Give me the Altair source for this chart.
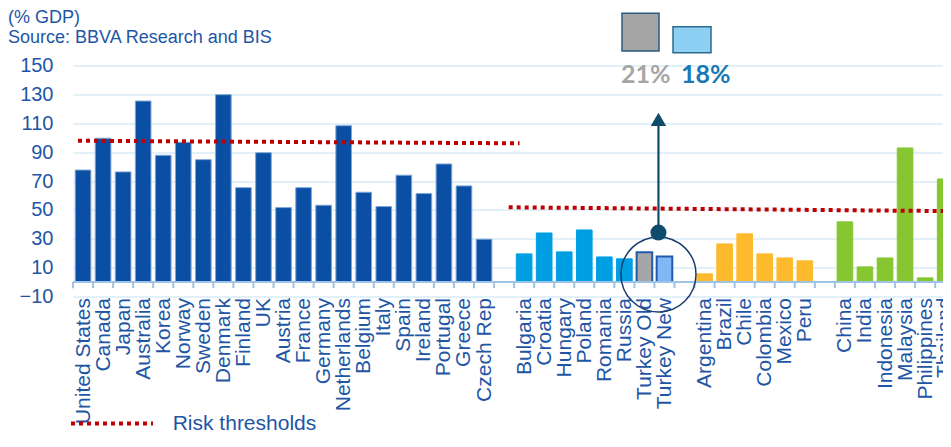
import json
import altair as alt
import pandas as pd

# ---------------- data ----------------
dev_names = ["United States", "Canada", "Japan", "Australia", "Korea", "Norway", "Sweden",
             "Denmark", "Finland", "UK", "Austria", "France", "Germany", "Netherlands",
             "Belgium", "Italy", "Spain", "Ireland", "Portugal", "Greece", "Czech Rep"]
dev_values = [77.6, 99.6, 76.3, 125.4, 87.8, 96.8, 84.8, 129.8, 65.4, 89.6, 51.6,
              65.4, 53.2, 108.3, 62.2, 52.3, 74.0, 61.3, 81.8, 66.6, 29.7]

eu_names = ["Bulgaria", "Croatia", "Hungary", "Poland", "Romania", "Russia"]
eu_values = [19.5, 34.0, 20.9, 36.1, 17.4, 16.1]

turkey_names = ["Turkey Old", "Turkey New"]
turkey_values = [20.7, 17.7]

latam_names = ["Argentina", "Brazil", "Chile", "Colombia", "Mexico", "Peru"]
latam_values = [5.7, 26.4, 33.4, 19.5, 16.7, 14.7]

asia_names = ["China", "India", "Indonesia", "Malaysia", "Philippines", "Thailand"]
asia_values = [41.7, 10.5, 16.7, 92.9, 2.9, 71.4]

# risk thresholds (start / end level of each dotted line)
threshold_names = ["developed", "emerging"]
threshold_start = [97.9, 51.8]
threshold_end = [96.1, 49.1]

turkey_labels = ["21%", "18%"]
y_ticks = [-10, 10, 30, 50, 70, 90, 110, 130, 150]

# ---------------- layout / style ----------------
PAD_L, PAD_T, PAD_B = 65, 57.5, 137
W, H = 870, 231
SLOT = 20.05
XMAX = W / SLOT
BLUE = "#1E56A5"
GRID = "#E2F0FA"
AXIS = "#9DC3E6"
RED = "#C00000"
ARROW = "#0F4C6C"
FONT = "Liberation Sans"

rows = []
slot = 0


def add(names, values, group):
    global slot
    for n, v in zip(names, values):
        rows.append(dict(name=n, value=v, group=group, slot=slot))
        slot += 1


add(dev_names, dev_values, "dev")
slot += 1
add(eu_names, eu_values, "eu")
add(turkey_names[:1], turkey_values[:1], "tr_old")
add(turkey_names[1:], turkey_values[1:], "tr_new")
slot += 1
add(latam_names, latam_values, "latam")
slot += 1
add(asia_names, asia_values, "asia")
NSLOT = slot

bar_df = pd.DataFrame(rows)
bar_df["x0"] = bar_df["slot"] + 0.11
bar_df["x1"] = bar_df["slot"] + 0.89
bar_df["mid"] = bar_df["slot"] + 0.5
bar_df["base"] = 0.0

labels = [""] * NSLOT
for r in rows:
    labels[r["slot"]] = r["name"]
label_expr = json.dumps(labels) + "[floor(datum.value)]"

xs = alt.Scale(domain=[0, XMAX], nice=False, zero=False)
ys = alt.Scale(domain=[-10, 150], nice=False, zero=False)

groups = ["dev", "eu", "tr_old", "tr_new", "latam", "asia"]
fills = ["#0A4FA3", "#009FE3", "#A6A6A6", "#80B7F6", "#FDBA2D", "#86C631"]
strokes = ["#7EA6DA", "#009FE3", "#1F5BAA", "#1F5BAA", "#FDBA2D", "#86C631"]

x_axis = alt.Axis(values=[i + 0.5 for i in range(NSLOT)], labelExpr=label_expr, title=None,
                  labelAngle=-90, domain=False, ticks=False, tickSize=0, grid=False,
                  labelPadding=1, labelFontSize=21, labelColor=BLUE, labelFont=FONT,
                  labelOverlap=False, labelFlush=False, labelBound=False)
y_axis = alt.Axis(values=y_ticks, title=None, domain=False, ticks=False, tickSize=0, grid=True,
                  gridColor=GRID, gridWidth=2, labelPadding=20, labelFontSize=20,
                  labelColor=BLUE, labelFont=FONT)


def X(field):
    return alt.X(field, type="quantitative", scale=xs, axis=x_axis)


def Y(field):
    return alt.Y(field, type="quantitative", scale=ys, axis=y_axis)


main_df = bar_df[~bar_df["group"].isin(["tr_old", "tr_new"])]
tr_df = bar_df[bar_df["group"].isin(["tr_old", "tr_new"])]

bars = alt.Chart(main_df).mark_rect(strokeWidth=1).encode(
    x=X("x0"), x2="x1", y=Y("value"), y2="base",
    color=alt.Color("group:N", scale=alt.Scale(domain=groups, range=fills), legend=None),
    stroke=alt.Stroke("group:N", scale=alt.Scale(domain=groups, range=strokes), legend=None),
)

tr_bars = alt.Chart(tr_df).mark_rect(strokeWidth=2).encode(
    x=X("x0"), x2="x1", y=Y("value"), y2="base",
    color=alt.Color("group:N", scale=alt.Scale(domain=groups, range=fills), legend=None),
    stroke=alt.Stroke("group:N", scale=alt.Scale(domain=groups, range=strokes), legend=None),
)

# category labels that fall past the right edge (cut off, as in the original)
edge_df = bar_df[bar_df["mid"] > XMAX]
edge_labels = alt.Chart(edge_df).mark_text(angle=270, align="right", baseline="middle",
                                           fontSize=21, font=FONT, color=BLUE).encode(
    x=X("mid"), y=alt.value(H + 1), text="name:N")

# zero line and category ticks
zero_df = pd.DataFrame({"x0": [0.0], "x1": [XMAX], "y": [0.0]})
zero_line = alt.Chart(zero_df).mark_rule(color=AXIS, strokeWidth=2).encode(
    x=X("x0"), x2="x1", y=Y("y"))

tick_df = pd.DataFrame({"pos": list(range(NSLOT + 1))})
tick_df["y0"] = 0.0
tick_df["y1"] = -4.2
ticks = alt.Chart(tick_df).mark_rule(color=AXIS, strokeWidth=2).encode(
    x=X("pos"), y=Y("y0"), y2="y1")

# thresholds
th_df = pd.DataFrame({
    "name": threshold_names,
    "x0": [0.25, 21.73],
    "x1": [22.27, 44.0],
    "y0": threshold_start,
    "y1": threshold_end,
})
thresholds = alt.Chart(th_df).mark_rule(color=RED, strokeWidth=4, strokeDash=[4, 4],
                                         strokeCap="butt").encode(
    x=X("x0"), x2="x1", y=Y("y0"), y2="y1")

# Turkey annotation: circle, arrow
ann_x = 29.2
circle_df = pd.DataFrame({"x": [ann_x], "y": [5.3]})
big_circle = alt.Chart(circle_df).mark_point(shape="circle", filled=False, size=5625,
                                             stroke="#1B3D6E", strokeWidth=1.5, opacity=1).encode(
    x=X("x"), y=Y("y"))

arrow_df = pd.DataFrame({"x": [ann_x], "y0": [34.3], "y1": [110.0]})
arrow_line = alt.Chart(arrow_df).mark_rule(color=ARROW, strokeWidth=2.2).encode(
    x=X("x"), y=Y("y0"), y2="y1")

dot = alt.Chart(arrow_df).mark_point(shape="circle", filled=True, size=256, color=ARROW,
                                      opacity=1).encode(x=X("x"), y=Y("y0"))

head_df = pd.DataFrame({"x": [ann_x], "y": [112.7]})
head = alt.Chart(head_df).mark_point(shape="triangle-up", filled=True, size=240, color=ARROW,
                                     opacity=1).encode(x=X("x"), y=Y("y"))

one = pd.DataFrame({"k": [0]})


def text(t, x, y, size, color, font=FONT, weight="normal"):
    return alt.Chart(one).mark_text(text=t, align="left", baseline="alphabetic", fontSize=size,
                                    font=font, fontWeight=weight, color=color).encode(
        x=alt.value(x), y=alt.value(y))


def box(x, x2, y, y2, fill, stroke):
    return alt.Chart(one).mark_rect(fill=fill, stroke=stroke, strokeWidth=1.5).encode(
        x=alt.value(x), x2=alt.value(x2), y=alt.value(y), y2=alt.value(y2))


title1 = text("(% GDP)", -65, -42.8, 18, BLUE)
title2 = text("Source: BBVA Research and BIS", -65, -22.2, 18, BLUE)
pct_old = text(turkey_labels[0], 548, 17.5, 25, "#A6A6A6", font="Lato", weight="bold")
pct_new = text(turkey_labels[1], 608, 17.5, 25, "#1A78B4", font="Lato", weight="bold")
box_old = box(549, 586, -52.2, -14.5, "#A6A6A6", "#2A5B7A")
box_new = box(600, 638, -38.8, -12.8, "#8ED0F3", "#2C6A8C")

leg_line = alt.Chart(one).mark_rule(color=RED, strokeWidth=4, strokeDash=[4, 4],
                                    strokeCap="butt").encode(
    x=alt.value(-2), x2=alt.value(80), y=alt.value(358.0))
leg_text = text("Risk thresholds", 99.7, 364.5, 21, BLUE)

chart = alt.layer(
    bars, tr_bars, edge_labels, zero_line, ticks, thresholds, big_circle, arrow_line, dot, head,
    title1, title2, pct_old, pct_new, box_old, box_new, leg_line, leg_text,
).properties(
    width=W, height=H,
    autosize=alt.AutoSizeParams(type="none"),
    padding={"left": PAD_L, "top": PAD_T, "right": 0, "bottom": PAD_B},
).configure(background="white").configure_view(stroke=None)

chart.save("out.html", embed_options={"renderer": "svg", "actions": False})
